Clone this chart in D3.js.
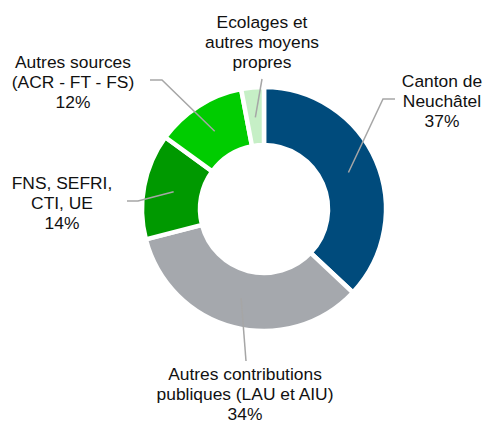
<!DOCTYPE html>
<html>
<head>
<meta charset="utf-8">
<script src="https://cdn.jsdelivr.net/npm/d3@7"></script>
<style>
  body { margin: 0; background: #fff; }
  svg text { font-family: "Liberation Sans", Arial, sans-serif; font-size: 17.4px; fill: #111; }
</style>
</head>
<body>
<svg id="chart"></svg>
<script>
// data
const categories = ["Canton de Neuchâtel", "Autres contributions publiques (LAU et AIU)",
  "FNS, SEFRI, CTI, UE", "Autres sources (ACR - FT - FS)", "Ecolages et autres moyens propres"];
const values = [37, 34, 14, 12, 3];
const labelLines = [
  ["Canton de", "Neuchâtel", "37%"],
  ["Autres contributions", "publiques (LAU et AIU)", "34%"],
  ["FNS, SEFRI,", "CTI, UE", "14%"],
  ["Autres sources", "(ACR - FT - FS)", "12%"],
  ["Ecolages et", "autres moyens", "propres"]
];
const colors = ["#004b7c", "#a5a8ad", "#009900", "#00cc00", "#c6efc6"];

// layout
const width = 485, height = 423;
const cx = 264, cy = 209;
const outerR = 122, innerR = 64;
const lineH = 20;

// label placement: text centre x, first line centre y, leader end (elbow) and tail
const labelPos = [
  {x: 442, y: 81, elbow: [383, 99], tail: [395, 99]},
  {x: 245, y: 374, elbow: [246, 361], tail: null},
  {x: 62, y: 183, elbow: [138, 201], tail: [127, 201]},
  {x: 73, y: 62, elbow: [162, 80], tail: [150, 80]},
  {x: 262, y: 22, elbow: [262, 79], tail: null}
];

const svg = d3.select("#chart")
    .attr("width", width)
    .attr("height", height);

const g = svg.append("g")
    .attr("transform", "translate(" + cx + "," + cy + ")");

const pie = d3.pie().sort(null).value(d => d);
const arcs = pie(values);

const arc = d3.arc()
    .innerRadius(innerR)
    .outerRadius(outerR);

g.selectAll("path.slice")
    .data(arcs)
    .enter()
    .append("path")
    .attr("class", "slice")
    .attr("d", arc)
    .attr("fill", (d, i) => colors[i])
    .attr("stroke", "#fff")
    .attr("stroke-width", 4.5)
    .attr("stroke-linejoin", "miter");

// leader lines from slice centroid
const midArc = d3.arc().innerRadius(92).outerRadius(92);
arcs.forEach(function(d, i) {
  const c = midArc.centroid(d);
  const p = labelPos[i];
  const pts = [[c[0] + cx, c[1] + cy], p.elbow];
  if (p.tail) pts.push(p.tail);
  svg.append("polyline")
      .attr("points", pts.map(q => q.join(",")).join(" "))
      .attr("fill", "none")
      .attr("stroke", "#a6a6a6")
      .attr("stroke-width", 1.5);
});

// labels
labelLines.forEach(function(lines, i) {
  const p = labelPos[i];
  const t = svg.append("text")
      .attr("text-anchor", "middle");
  lines.forEach(function(l, j) {
    t.append("tspan")
        .attr("x", p.x)
        .attr("y", p.y + j * lineH)
        .attr("dy", "0.35em")
        .text(l);
  });
});
</script>
</body>
</html>
